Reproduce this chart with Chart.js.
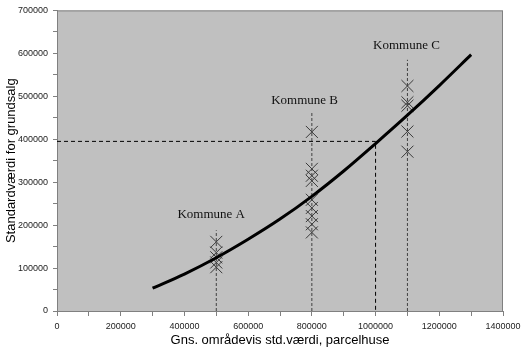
<!DOCTYPE html>
<html>
<head>
<meta charset="utf-8">
<script src="https://cdn.jsdelivr.net/npm/chart.js@4"></script>
<style>
  body { margin: 0; background: #fff; }
  #wrap { width: 527px; height: 351px; position: relative; }
</style>
</head>
<body>
<div id="wrap"><canvas id="grundChart"></canvas></div>
<script>
// fitted curve
const curveX = [300000, 400000, 500000, 600000, 700000, 800000, 900000, 1000000, 1100000, 1200000, 1300000];
const curveY = [53000, 86000, 124000, 167000, 214000, 267000, 326000, 390000, 456000, 525000, 597000];

// observed sales per kommune
const kommuneNames = ["Kommune A", "Kommune B", "Kommune C"];
const kommuneX = [500000, 800000, 1100000];
const salesA = [161000, 136000, 125000, 113000, 102000];
const salesB = [417000, 331000, 315000, 303000, 259000, 240000, 221000, 202000, 183000];
const salesC = [524000, 486000, 478000, 418000, 371000];
const guideTop = [188000, 465000, 585000]; // top of dashed verticals
const labelAt = [[484000, 225000], [777000, 490000], [1097000, 617000]];

// reading example: 1000000 -> 395000
const readX = 1000000;
const readY = 395000;

const xTitle = "Gns. områdevis std.værdi, parcelhuse";
const yTitle = "Standardværdi for grundsalg";

const pts = (xs, ys) => xs.map((x, i) => ({ x: x, y: ys[i] }));
const vline = (x, top) => [{ x: x, y: 0 }, { x: x, y: top }];

const crossStyle = {
  showLine: false,
  pointStyle: "crossRot",
  pointRadius: 8.5,
  pointBorderColor: "#3a3a3a",
  pointBorderWidth: 1,
  backgroundColor: "transparent",
};

const guideStyle = {
  showLine: true,
  borderColor: "#404040",
  borderWidth: 1,
  borderDash: [3, 2],
  pointRadius: 0,
};

const plotBg = {
  id: "plotBg",
  beforeDraw(chart) {
    const { ctx, chartArea: a } = chart;
    ctx.save();
    ctx.fillStyle = "#c0c0c0";
    ctx.fillRect(a.left, a.top, a.right - a.left, a.bottom - a.top);
    ctx.strokeStyle = "#808080";
    ctx.lineWidth = 1;
    ctx.strokeRect(a.left + 0.5, a.top + 0.5, a.right - a.left - 1, a.bottom - a.top);
    ctx.restore();
  },
};

const kommuneLabels = {
  id: "kommuneLabels",
  afterDatasetsDraw(chart) {
    const { ctx, scales } = chart;
    ctx.save();
    ctx.font = "13px 'Liberation Serif'";
    ctx.fillStyle = "#111";
    ctx.textAlign = "center";
    ctx.textBaseline = "middle";
    kommuneNames.forEach((name, i) => {
      ctx.fillText(name, scales.x.getPixelForValue(labelAt[i][0]), scales.y.getPixelForValue(labelAt[i][1]));
    });
    ctx.restore();
  },
};

const ctx = document.getElementById("grundChart").getContext("2d");
const grundChart = new Chart(ctx, {
  type: "scatter",
  data: {
    datasets: [
      {
        label: "curve",
        data: pts(curveX, curveY),
        showLine: true,
        borderColor: "#000",
        borderWidth: 3,
        pointRadius: 0,
        cubicInterpolationMode: "monotone",
      },
      { label: "A", data: salesA.map((y) => ({ x: kommuneX[0], y: y })), ...crossStyle },
      { label: "B", data: salesB.map((y) => ({ x: kommuneX[1], y: y })), ...crossStyle },
      { label: "C", data: salesC.map((y) => ({ x: kommuneX[2], y: y })), ...crossStyle },
      { label: "gA", data: vline(kommuneX[0], guideTop[0]), ...guideStyle },
      { label: "gB", data: vline(kommuneX[1], guideTop[1]), ...guideStyle },
      { label: "gC", data: vline(kommuneX[2], guideTop[2]), ...guideStyle },
      {
        label: "read",
        data: [{ x: 0, y: readY }, { x: readX, y: readY }, { x: readX, y: 0 }],
        showLine: true,
        borderColor: "#000",
        borderWidth: 1,
        borderDash: [4, 3],
        pointRadius: 0,
      },
    ],
  },
  options: {
    responsive: true,
    maintainAspectRatio: false,
    animation: false,
    layout: { padding: { left: 0, right: 24, top: 7, bottom: 0 } },
    plugins: {
      legend: { display: false },
      tooltip: { enabled: false },
    },
    scales: {
      x: {
        type: "linear",
        min: 0,
        max: 1400000,
        afterFit: (scale) => { scale.height = 40; },
        border: { color: "#808080", width: 1 },
        grid: { drawOnChartArea: false, tickLength: 5, color: "#808080" },
        ticks: {
          stepSize: 100000,
          autoSkip: false,
          maxRotation: 0,
          padding: 5,
          color: "#222",
          font: { family: "'Liberation Sans'", size: 9 },
          callback: (v) => (v % 200000 === 0 ? String(v) : ""),
        },
        title: {
          display: true,
          text: xTitle,
          color: "#000",
          font: { family: "'Liberation Sans'", size: 13 },
          padding: { top: 0, bottom: 3 },
        },
      },
      y: {
        type: "linear",
        min: 0,
        max: 700000,
        afterFit: (scale) => { scale.width = 57; },
        border: { color: "#808080", width: 1 },
        grid: { drawOnChartArea: false, tickLength: 4, color: "#808080" },
        ticks: {
          stepSize: 50000,
          autoSkip: false,
          padding: 5,
          color: "#222",
          font: { family: "'Liberation Sans'", size: 9 },
          callback: (v) => (v % 100000 === 0 ? String(v) : ""),
        },
        title: {
          display: true,
          text: yTitle,
          color: "#000",
          font: { family: "'Liberation Sans'", size: 13 },
          padding: { top: 4, bottom: 0 },
        },
      },
    },
  },
  plugins: [plotBg, kommuneLabels],
});
</script>
</body>
</html>
